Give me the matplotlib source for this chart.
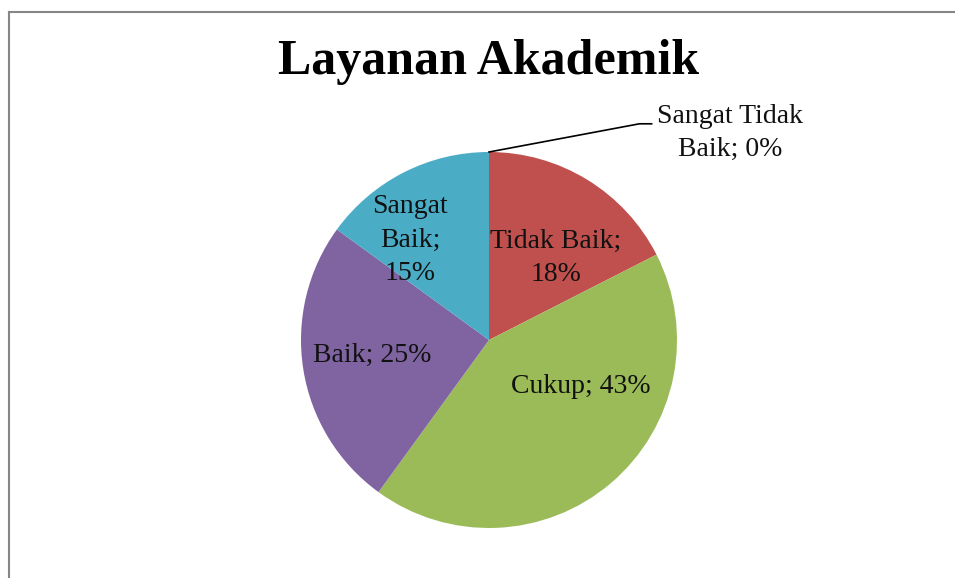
import matplotlib
matplotlib.use("Agg")
import matplotlib.pyplot as plt
import numpy as np

categories = ["Sangat Tidak Baik", "Tidak Baik", "Cukup", "Baik", "Sangat Baik"]
values = [0, 17.5, 42.5, 25, 15]
colors = ["#F79646", "#C0504D", "#9BBB59", "#8064A2", "#4BACC6"]
label_text = ["Sangat Tidak\nBaik; {}%", "Tidak Baik;\n{}%", "Cukup; {}%", "Baik; {}%", "Sangat\nBaik;\n{}%"]
label_pos = [(1.282, 1.101), (0.356, 0.436), (0.489, -0.245), (-0.622, -0.080), (-0.420, 0.532)]

W, H = 955, 578
fig = plt.figure(figsize=(W / 100, H / 100), dpi=100)
fig.patch.set_facecolor("white")

# outer frame (only top/left visible)
fig.add_artist(plt.Line2D([9 / W, 9 / W], [0, 1 - 12 / H], transform=fig.transFigure, color="#868686", lw=1.5))
fig.add_artist(plt.Line2D([9 / W, 1], [1 - 12 / H, 1 - 12 / H], transform=fig.transFigure, color="#868686", lw=1.5))

cx, cy, r = 489, 340, 188
ax = fig.add_axes([(cx - r) / W, (H - cy - r) / H, 2 * r / W, 2 * r / H])

total = sum(values)
ax.pie(values, colors=colors, startangle=90, counterclock=False, radius=1,
       wedgeprops=dict(linewidth=0))
ax.set_xlim(-1, 1)
ax.set_ylim(-1, 1)
ax.set_aspect("equal")
ax.axis("off")

font = "Liberation Serif"
for name, v, txt, (x, y) in zip(categories, values, label_text, label_pos):
    pct = int(v / total * 100 + 0.5)
    ax.text(x, y, txt.format(pct), ha="center", va="center", fontsize=20,
            family=font, color="#111111", linespacing=1.45)

# leader line for the 0% slice
ax.plot([0, 0.80, 0.865], [1.0, 1.15, 1.15], color="black", lw=1.2, clip_on=False)

fig.text(cx / W, 1 - 62 / H, "Layanan Akademik", ha="center", va="center",
         fontsize=36, fontweight="bold", family=font, color="black")

fig.savefig("out.png", dpi=100, facecolor="white")
